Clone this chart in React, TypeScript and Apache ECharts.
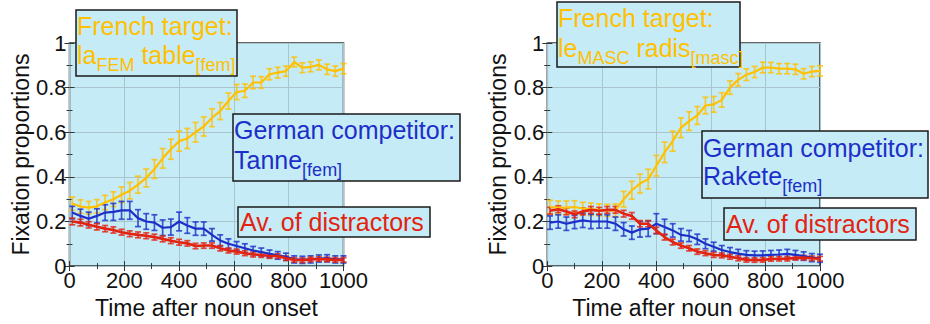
import React, { useEffect, useRef } from "react";
import * as echarts from "echarts";

// time points (ms after noun onset)
const times = [10, 40, 70, 100, 130, 160, 190, 220, 250, 280, 310, 340, 370, 400, 430, 460, 490, 520, 550, 580, 610, 640, 670, 700, 730, 760, 790, 820, 850, 880, 910, 940, 970, 1000];

const xTickLabels = ["0", "200", "400", "600", "800", "1000"];
const yTickLabels = ["0", "0.2", "0.4", "0.6", "0.8", "1"];

// Left panel: la table / Tanne
const targetLeft = [0.28, 0.267, 0.262, 0.268, 0.285, 0.3, 0.32, 0.338, 0.365, 0.395, 0.435, 0.483, 0.524, 0.56, 0.572, 0.6, 0.626, 0.665, 0.695, 0.74, 0.78, 0.786, 0.823, 0.823, 0.86, 0.867, 0.874, 0.915, 0.889, 0.893, 0.902, 0.882, 0.874, 0.885];
const targetErrLeft = [0.03, 0.03, 0.028, 0.03, 0.032, 0.033, 0.035, 0.037, 0.038, 0.04, 0.042, 0.044, 0.045, 0.045, 0.045, 0.044, 0.043, 0.04, 0.038, 0.036, 0.034, 0.03, 0.028, 0.026, 0.025, 0.024, 0.023, 0.022, 0.022, 0.022, 0.022, 0.023, 0.023, 0.023];
const competitorLeft = [0.24, 0.225, 0.212, 0.225, 0.24, 0.243, 0.25, 0.25, 0.215, 0.2, 0.195, 0.172, 0.175, 0.2, 0.182, 0.168, 0.168, 0.14, 0.115, 0.1, 0.09, 0.08, 0.07, 0.063, 0.055, 0.048, 0.042, 0.03, 0.028, 0.03, 0.034, 0.035, 0.03, 0.03];
const competitorErrLeft = [0.028, 0.03, 0.03, 0.032, 0.035, 0.038, 0.04, 0.04, 0.038, 0.035, 0.035, 0.035, 0.036, 0.042, 0.035, 0.03, 0.03, 0.028, 0.025, 0.022, 0.02, 0.02, 0.018, 0.018, 0.017, 0.017, 0.016, 0.016, 0.016, 0.016, 0.016, 0.016, 0.016, 0.016];
const distractorLeft = [0.2, 0.195, 0.185, 0.176, 0.168, 0.162, 0.152, 0.145, 0.14, 0.136, 0.13, 0.122, 0.114, 0.107, 0.102, 0.09, 0.092, 0.092, 0.08, 0.07, 0.065, 0.058, 0.052, 0.05, 0.045, 0.045, 0.035, 0.028, 0.026, 0.03, 0.032, 0.03, 0.028, 0.028];
const distractorErrLeft = [0.015, 0.015, 0.014, 0.014, 0.014, 0.014, 0.013, 0.013, 0.013, 0.013, 0.013, 0.013, 0.013, 0.013, 0.012, 0.012, 0.012, 0.012, 0.012, 0.011, 0.011, 0.011, 0.011, 0.011, 0.01, 0.01, 0.01, 0.01, 0.01, 0.01, 0.01, 0.01, 0.01, 0.01];

// Right panel: le radis / Rakete
const targetRight = [0.265, 0.262, 0.262, 0.265, 0.258, 0.255, 0.252, 0.25, 0.25, 0.3, 0.34, 0.37, 0.39, 0.45, 0.51, 0.56, 0.62, 0.65, 0.675, 0.72, 0.725, 0.745, 0.8, 0.835, 0.858, 0.87, 0.89, 0.89, 0.885, 0.885, 0.882, 0.862, 0.872, 0.875];
const targetErrRight = [0.03, 0.03, 0.03, 0.028, 0.028, 0.028, 0.027, 0.027, 0.028, 0.035, 0.04, 0.042, 0.044, 0.046, 0.046, 0.045, 0.044, 0.042, 0.04, 0.037, 0.035, 0.032, 0.03, 0.028, 0.026, 0.025, 0.024, 0.023, 0.023, 0.023, 0.023, 0.023, 0.023, 0.023];
const competitorRight = [0.195, 0.2, 0.19, 0.198, 0.205, 0.2, 0.2, 0.2, 0.19, 0.165, 0.15, 0.165, 0.168, 0.19, 0.175, 0.16, 0.14, 0.135, 0.12, 0.1, 0.087, 0.072, 0.063, 0.056, 0.05, 0.048, 0.048, 0.05, 0.052, 0.055, 0.05, 0.045, 0.038, 0.035];
const competitorErrRight = [0.03, 0.03, 0.03, 0.03, 0.032, 0.032, 0.03, 0.03, 0.03, 0.03, 0.03, 0.035, 0.035, 0.045, 0.035, 0.03, 0.028, 0.025, 0.023, 0.022, 0.02, 0.02, 0.02, 0.019, 0.019, 0.019, 0.02, 0.02, 0.02, 0.02, 0.02, 0.019, 0.018, 0.018];
const distractorRight = [0.248, 0.255, 0.245, 0.232, 0.245, 0.252, 0.248, 0.252, 0.252, 0.235, 0.225, 0.19, 0.19, 0.16, 0.13, 0.108, 0.092, 0.08, 0.065, 0.058, 0.05, 0.048, 0.042, 0.035, 0.028, 0.027, 0.028, 0.032, 0.033, 0.033, 0.037, 0.038, 0.035, 0.033];
const distractorErrRight = [0.015, 0.015, 0.015, 0.015, 0.015, 0.015, 0.015, 0.015, 0.015, 0.015, 0.015, 0.014, 0.014, 0.014, 0.013, 0.013, 0.012, 0.012, 0.012, 0.011, 0.011, 0.011, 0.011, 0.011, 0.01, 0.01, 0.01, 0.01, 0.01, 0.01, 0.01, 0.01, 0.01, 0.01];

const YELLOW = "#ffc000";
const BLUE = "#1c2fc8";
const RED = "#e3220f";
const BG = "#c5ebf7";
const FONT = "'Liberation Sans', Arial, Helvetica, sans-serif";
const MAIN_SIZE = 25;
const SUB_SIZE = 18;
const SUB_DROP = 7.5;

function lineSeries(values: number[], color: string, idx: number, width: number) {
  return {
    type: "line",
    xAxisIndex: idx * 2,
    yAxisIndex: idx * 2,
    data: times.map((t, i) => [t, values[i]]),
    showSymbol: false,
    lineStyle: { color, width },
    itemStyle: { color },
    z: 3,
  };
}

function errSeries(values: number[], errs: number[], color: string, idx: number) {
  return {
    type: "custom",
    xAxisIndex: idx * 2,
    yAxisIndex: idx * 2,
    data: times.map((t, i) => [t, values[i], errs[i]]),
    z: 2,
    renderItem: (_p: any, api: any) => {
      const x = api.value(0);
      const y = api.value(1);
      const e = api.value(2);
      const top = api.coord([x, y + e]);
      const bot = api.coord([x, y - e]);
      const w = 3;
      const st = { stroke: color, lineWidth: 1.7, opacity: 0.8 };
      return {
        type: "group",
        children: [
          { type: "line", shape: { x1: top[0], y1: top[1], x2: bot[0], y2: bot[1] }, style: st },
          { type: "line", shape: { x1: top[0] - w, y1: top[1], x2: top[0] + w, y2: top[1] }, style: st },
          { type: "line", shape: { x1: bot[0] - w, y1: bot[1], x2: bot[0] + w, y2: bot[1] }, style: st },
        ],
      };
    },
  };
}

function axesFor(gridIndex: number) {
  const tickStyle = { color: "#333", width: 1 };
  const xBottom = {
    type: "value",
    gridIndex,
    position: "bottom",
    min: 0,
    max: 1000,
    interval: 200,
    axisLine: { show: false },
    axisTick: { show: true, inside: true, length: 5, lineStyle: tickStyle },
    minorTick: { show: true, splitNumber: 2, length: 3, lineStyle: tickStyle },
    splitLine: { show: true, lineStyle: { color: "#a8c4cc", width: 1 } },
    axisLabel: {
      show: true,
      margin: 3,
      fontSize: 22,
      fontFamily: FONT,
      color: "#111",
      formatter: (v: number) => xTickLabels[Math.round(v / 200)] ?? String(v),
    },
    name: "Time after noun onset",
    nameLocation: "middle",
    nameGap: 23,
    nameTextStyle: { fontSize: 23, fontFamily: FONT, color: "#111" },
  };
  const xTop = {
    type: "value",
    gridIndex,
    position: "top",
    min: 0,
    max: 1000,
    interval: 200,
    axisLine: { show: false },
    axisTick: { show: true, inside: true, length: 5, lineStyle: tickStyle },
    minorTick: { show: true, splitNumber: 2, length: 3, lineStyle: tickStyle },
    splitLine: { show: false },
    axisLabel: { show: false },
  };
  const yLeft = {
    type: "value",
    gridIndex,
    position: "left",
    min: 0,
    max: 1,
    interval: 0.2,
    axisLine: { show: false },
    axisTick: { show: true, inside: true, length: 5, lineStyle: tickStyle },
    minorTick: { show: true, splitNumber: 2, length: 3, lineStyle: tickStyle },
    splitLine: { show: true, lineStyle: { color: "#a8c4cc", width: 1 } },
    axisLabel: {
      show: true,
      margin: 3,
      fontSize: 22,
      fontFamily: FONT,
      color: "#111",
      formatter: (v: number) => yTickLabels[Math.round(v / 0.2)] ?? String(v),
    },
    name: "Fixation proportions",
    nameLocation: "middle",
    nameGap: 37,
    nameTextStyle: { fontSize: 23, fontFamily: FONT, color: "#111" },
  };
  const yRight = {
    type: "value",
    gridIndex,
    position: "right",
    min: 0,
    max: 1,
    interval: 0.2,
    axisLine: { show: false },
    axisTick: { show: true, inside: true, length: 5, lineStyle: tickStyle },
    minorTick: { show: true, splitNumber: 2, length: 3, lineStyle: tickStyle },
    splitLine: { show: false },
    axisLabel: { show: false },
  };
  return { x: [xBottom, xTop], y: [yLeft, yRight] };
}

type Part = [string, boolean];
type Line = { baseline: number; parts: Part[] };
type Box = { rect: [number, number, number, number]; textX: number; color: string; lines: Line[] };

const boxes: Box[] = [
  {
    rect: [76, 10, 161, 66],
    textX: 77,
    color: YELLOW,
    lines: [
      { baseline: 35, parts: [["French target:", false]] },
      { baseline: 63.3, parts: [["la", false], ["FEM", true], [" table", false], ["[fem]", true]] },
    ],
  },
  {
    rect: [233, 114, 227, 67],
    textX: 234,
    color: BLUE,
    lines: [
      { baseline: 138.3, parts: [["German competitor:", false]] },
      { baseline: 168.3, parts: [["Tanne", false], ["[fem]", true]] },
    ],
  },
  {
    rect: [238, 207, 192, 30],
    textX: 240,
    color: RED,
    lines: [{ baseline: 231, parts: [["Av. of distractors", false]] }],
  },
  {
    rect: [557, 2, 183, 65],
    textX: 558,
    color: YELLOW,
    lines: [
      { baseline: 26.7, parts: [["French target:", false]] },
      { baseline: 56.7, parts: [["le", false], ["MASC", true], [" radis", false], ["[masc]", true]] },
    ],
  },
  {
    rect: [702, 131, 226, 67],
    textX: 703,
    color: BLUE,
    lines: [
      { baseline: 156.7, parts: [["German competitor:", false]] },
      { baseline: 185, parts: [["Rakete", false], ["[fem]", true]] },
    ],
  },
  {
    rect: [724, 208, 192, 32],
    textX: 726,
    color: RED,
    lines: [{ baseline: 232.7, parts: [["Av. of distractors", false]] }],
  },
];

function boxGraphics(b: Box, measure: (s: string, size: number) => number) {
  const els: any[] = [
    {
      type: "rect",
      shape: { x: b.rect[0], y: b.rect[1], width: b.rect[2], height: b.rect[3] },
      style: { fill: BG, stroke: "#1a1a1a", lineWidth: 1.5 },
      z: 100,
    },
  ];
  b.lines.forEach((ln) => {
    let cx = b.textX;
    ln.parts.forEach(([s, sub]) => {
      const size = sub ? SUB_SIZE : MAIN_SIZE;
      const base = sub ? ln.baseline + SUB_DROP : ln.baseline;
      els.push({
        type: "text",
        x: cx,
        y: base - 0.3465 * size,
        z: 101,
        style: {
          text: s,
          fontSize: size,
          fontFamily: FONT,
          fill: b.color,
          align: "left",
          verticalAlign: "middle",
        },
      });
      cx += measure(s, size);
    });
  });
  return els;
}

export default function App() {
  const ref = useRef<HTMLDivElement>(null);
  useEffect(() => {
    if (!ref.current) return;
    const chart = echarts.init(ref.current, undefined, { renderer: "svg" });
    const ctx = document.createElement("canvas").getContext("2d");
    const measure = (s: string, size: number) => {
      if (!ctx) return s.length * size * 0.5;
      ctx.font = `${size}px ${FONT}`;
      return ctx.measureText(s).width;
    };
    const a0 = axesFor(0);
    const a1 = axesFor(1);
    const option: any = {
      animation: false,
      backgroundColor: "#ffffff",
      grid: [
        { left: 69.5, top: 43, width: 274, height: 228, show: true, backgroundColor: BG, borderColor: "#333", borderWidth: 1.5 },
        { left: 547.3, top: 43, width: 272.7, height: 228, show: true, backgroundColor: BG, borderColor: "#333", borderWidth: 1.5 },
      ],
      xAxis: [...a0.x, ...a1.x],
      yAxis: [...a0.y, ...a1.y],
      series: [
        errSeries(targetLeft, targetErrLeft, YELLOW, 0),
        lineSeries(targetLeft, YELLOW, 0, 2.2),
        errSeries(competitorLeft, competitorErrLeft, BLUE, 0),
        lineSeries(competitorLeft, BLUE, 0, 2.2),
        errSeries(distractorLeft, distractorErrLeft, RED, 0),
        lineSeries(distractorLeft, RED, 0, 2.6),
        errSeries(targetRight, targetErrRight, YELLOW, 1),
        lineSeries(targetRight, YELLOW, 1, 2.2),
        errSeries(competitorRight, competitorErrRight, BLUE, 1),
        lineSeries(competitorRight, BLUE, 1, 2.2),
        errSeries(distractorRight, distractorErrRight, RED, 1),
        lineSeries(distractorRight, RED, 1, 2.6),
      ],
      graphic: boxes.flatMap((b) => boxGraphics(b, measure)),
    };
    chart.setOption(option);
    return () => chart.dispose();
  }, []);
  return <div ref={ref} style={{ position: "fixed", left: 0, top: 0, width: 930, height: 324 }} />;
}
